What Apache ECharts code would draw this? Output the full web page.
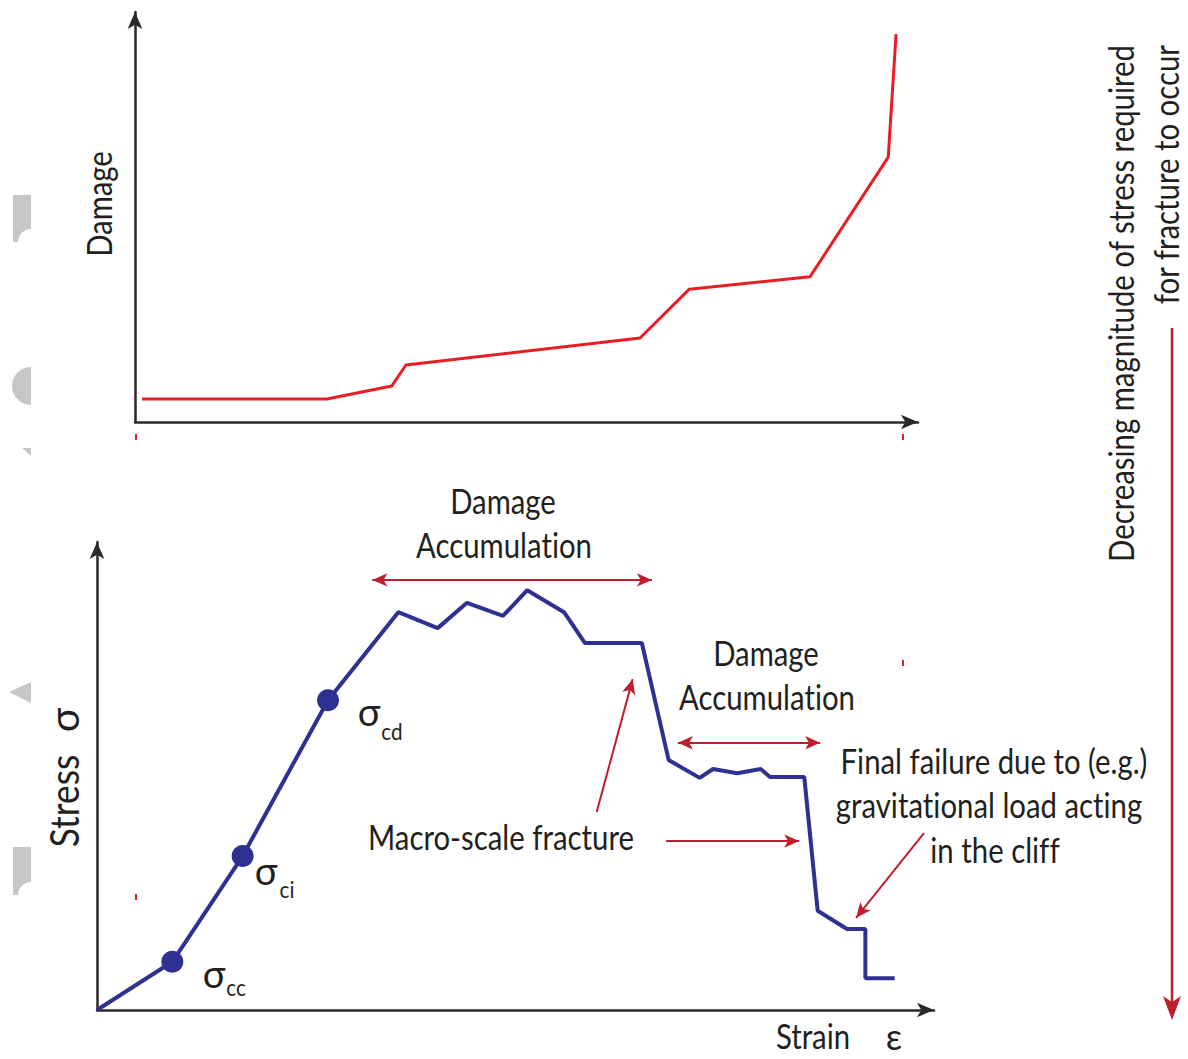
<!DOCTYPE html>
<html>
<head>
<meta charset="utf-8">
<script src="https://cdn.jsdelivr.net/npm/echarts@6/dist/echarts.min.js"></script>
<style>
  html, body { margin: 0; padding: 0; background: #ffffff; }
  #chart { width: 1188px; height: 1059px; }
  #chart text { font-variant-ligatures: none; }
</style>
</head>
<body>
<div id="chart"></div>
<script>
// Upper panel: damage against strain (arbitrary units, 0-100)
const damageStrain = [0.9, 24.5, 32.8, 34.6, 64.5, 70.8, 86.2, 96.2, 97.2];
const damageValue  = [5.6, 5.6, 8.8, 13.9, 20.5, 32.4, 35.4, 64.6, 94.6];

// Lower panel: stress against strain (arbitrary units, 0-100)
const stressStrain = [0, 9.0, 17.4, 27.6, 36.0, 40.7, 44.2, 48.5, 51.4, 55.8, 58.3, 65.1,
                      68.3, 72.0, 73.6, 76.5, 79.3, 80.4, 84.5, 86.1, 89.6, 91.8, 91.8, 95.3];
const stressValue  = [0, 10.3, 32.9, 66.2, 85.0, 81.6, 87.0, 84.2, 89.7, 85.0, 78.4, 78.4,
                      53.4, 49.6, 51.5, 50.6, 51.5, 49.8, 49.8, 21.2, 17.3, 17.3, 6.8, 6.8];

// Stress thresholds (crack closure, initiation, damage) as indices into the stress curve
const thresholdSub   = ['cc', 'ci', 'cd'];
const thresholdIndex = [1, 2, 3];

// Annotation arrows in stress-panel units: [from, to]
const spanArrows = [
  [[32.9, 91.9], [66.3, 91.9]],
  [[69.4, 57.1], [86.4, 57.1]]
];
const pointerArrows = [
  [[59.7, 42.3], [64.0, 70.7]],
  [[68.0, 36.1], [83.9, 36.1]],
  [[98.8, 37.8], [90.7, 19.7]]
];

const FONT = "Lato, 'Open Sans', 'Liberation Sans', sans-serif";
const INK = '#231f20';
const ANNOT = '#be1e2d';
const BLUE = '#2e3192';
const RED = '#ec1c24';
const AXIS = '#2a2a2a';
const SHADE = '#c6c6c6';

// Horizontal condensing so the humanist sans reads like a condensed face
const measureCtx = document.createElement('canvas').getContext('2d');
measureCtx.font = '34px ' + FONT;
const CONDENSE = Math.min(1, 307 / measureCtx.measureText('Final failure due to (e.g.)').width);

const chart = echarts.init(document.getElementById('chart'), null, { renderer: 'svg' });

function axisCommon() {
  return {
    type: 'value', min: 0, max: 100,
    axisLine: { show: true, symbol: ['none', 'arrow'], symbolSize: [11, 17],
                lineStyle: { color: AXIS, width: 2.5 } },
    axisTick: { show: false }, axisLabel: { show: false }, splitLine: { show: false }
  };
}

function arrowEnd(c, sym) {
  return { coord: c, symbol: sym, symbolSize: [10, 15] };
}
const arrowLines = spanArrows.map(a => [arrowEnd(a[0], 'arrow'), arrowEnd(a[1], 'arrow')])
  .concat(pointerArrows.map(a => [arrowEnd(a[0], 'none'), arrowEnd(a[1], 'arrow')]));

function txt(text, x, y, size, opts) {
  opts = opts || {};
  return {
    type: 'text', x: x, y: y, rotation: opts.rotation || 0, silent: true, z: 100,
    scaleX: opts.noCondense ? 1 : CONDENSE,
    style: { text: text, fontSize: size, fontFamily: FONT, fill: opts.fill || INK,
             align: opts.align || 'center', verticalAlign: 'middle' }
  };
}

// Notched block: rectangle whose lower-right corner is cut by a quarter circle
function notchedBlock(x0, x1, y0, y1, r) {
  const pts = [[x0, y0], [x1, y0], [x1, y1 - r]];
  for (let k = 1; k < 12; k++) {
    const a = -Math.PI / 2 - (Math.PI / 2) * k / 12;
    pts.push([x1 + r * Math.cos(a), y1 + r * Math.sin(a)]);
  }
  pts.push([x1 - r, y1], [x0, y1]);
  return { type: 'polygon', silent: true, shape: { points: pts }, style: { fill: SHADE } };
}

// Sigma labels next to the threshold dots
const sigmaPos = [[214, 973, 236, 987], [266, 870, 287, 889], [369, 711, 392, 731]];
const sigmaLabels = [];
thresholdSub.forEach((s, i) => {
  const p = sigmaPos[i];
  sigmaLabels.push(txt('σ', p[0], p[1], 38, { noCondense: true }));
  sigmaLabels.push(txt(s, p[2], p[3], 24));
});

const graphics = [
  // axis titles
  txt('Damage', 99, 204, 34, { rotation: Math.PI / 2 }),
  txt('Stress', 63, 801, 41, { rotation: Math.PI / 2 }),
  txt('σ', 63, 720, 41, { rotation: Math.PI / 2, noCondense: true }),
  txt('Strain', 813, 1036, 34),
  txt('ε', 894, 1036, 36, { noCondense: true }),
  // annotations
  txt('Damage', 503, 501, 34),
  txt('Accumulation', 504, 545, 34),
  txt('Damage', 766, 653, 34),
  txt('Accumulation', 767, 697, 34),
  txt('Macro-scale fracture', 501, 837, 34),
  txt('Final failure due to (e.g.)', 994, 761, 34),
  txt('gravitational load acting', 989, 805, 34),
  txt('in the cliff', 995, 850, 34),
  txt('Decreasing magnitude of stress required', 1121, 45, 34,
      { rotation: Math.PI / 2, align: 'right' }),
  txt('for fracture to occur', 1166, 45, 34,
      { rotation: Math.PI / 2, align: 'right' }),
  // long downward arrow on the right
  { type: 'line', silent: true, shape: { x1: 1172, y1: 328, x2: 1172, y2: 1004 },
    style: { stroke: ANNOT, lineWidth: 2.5 } },
  { type: 'polygon', silent: true,
    shape: { points: [[1172, 1020], [1163, 996], [1172, 1002], [1181, 996]] },
    style: { fill: ANNOT } },
  // light grey fragments along the left edge
  notchedBlock(13, 31, 195, 242, 13),
  { type: 'sector', silent: true,
    shape: { cx: 31, cy: 386, r0: 0, r: 19, startAngle: Math.PI / 2, endAngle: Math.PI * 1.5, clockwise: true },
    style: { fill: SHADE } },
  { type: 'polygon', silent: true, shape: { points: [[22, 448], [31, 448], [31, 456]] },
    style: { fill: SHADE } },
  { type: 'polygon', silent: true, shape: { points: [[9, 692], [31, 682], [31, 703]] },
    style: { fill: SHADE } },
  notchedBlock(13, 31, 847, 895, 13),
  // small red registration ticks
  { type: 'rect', silent: true, shape: { x: 135, y: 434, width: 2, height: 6 }, style: { fill: RED } },
  { type: 'rect', silent: true, shape: { x: 902, y: 434, width: 2, height: 6 }, style: { fill: RED } },
  { type: 'rect', silent: true, shape: { x: 135, y: 894, width: 2, height: 6 }, style: { fill: RED } },
  { type: 'rect', silent: true, shape: { x: 902, y: 660, width: 2, height: 6 }, style: { fill: RED } }
].concat(sigmaLabels);

chart.setOption({
  animation: false,
  backgroundColor: '#ffffff',
  grid: [
    { left: 135, top: 12, width: 783, height: 410 },
    { left: 97, top: 542, width: 837, height: 468 }
  ],
  xAxis: [
    Object.assign(axisCommon(), { gridIndex: 0 }),
    Object.assign(axisCommon(), { gridIndex: 1 })
  ],
  yAxis: [
    Object.assign(axisCommon(), { gridIndex: 0 }),
    Object.assign(axisCommon(), { gridIndex: 1 })
  ],
  series: [
    {
      name: 'Damage', type: 'line', xAxisIndex: 0, yAxisIndex: 0,
      data: damageStrain.map((x, i) => [x, damageValue[i]]),
      showSymbol: false, lineStyle: { color: RED, width: 3 }, silent: true
    },
    {
      name: 'Stress', type: 'line', xAxisIndex: 1, yAxisIndex: 1,
      data: stressStrain.map((x, i) => [x, stressValue[i]]),
      showSymbol: false, lineStyle: { color: BLUE, width: 4 }, silent: true,
      markLine: {
        silent: true, animation: false,
        label: { show: false },
        lineStyle: { color: ANNOT, width: 2, type: 'solid' },
        emphasis: { disabled: true },
        data: arrowLines
      }
    },
    {
      name: 'Thresholds', type: 'scatter', xAxisIndex: 1, yAxisIndex: 1,
      data: thresholdIndex.map(i => [stressStrain[i], stressValue[i]]),
      symbolSize: 22, itemStyle: { color: BLUE, opacity: 1 }, silent: true, z: 5
    }
  ],
  graphic: graphics
});
</script>
</body>
</html>
